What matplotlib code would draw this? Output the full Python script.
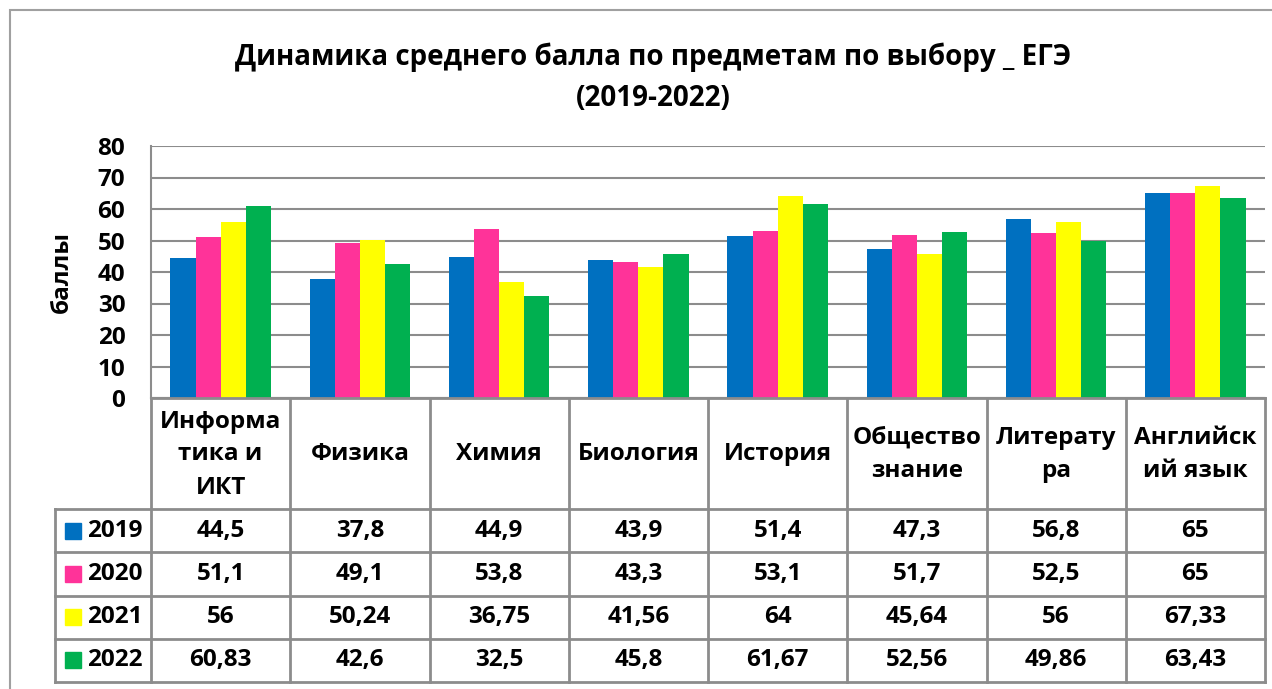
import matplotlib.pyplot as plt
import numpy as np

plt.rcParams['font.family'] = ['Open Sans', 'DejaVu Sans']
plt.rcParams['font.weight'] = 'bold'

# данные
subjects = ['Информа\nтика и\nИКТ', 'Физика', 'Химия', 'Биология', 'История',
            'Общество\nзнание', 'Литерату\nра', 'Английск\nий язык']
years = ['2019', '2020', '2021', '2022']
v2019 = [44.5, 37.8, 44.9, 43.9, 51.4, 47.3, 56.8, 65]
v2020 = [51.1, 49.1, 53.8, 43.3, 53.1, 51.7, 52.5, 65]
v2021 = [56, 50.24, 36.75, 41.56, 64, 45.64, 56, 67.33]
v2022 = [60.83, 42.6, 32.5, 45.8, 61.67, 52.56, 49.86, 63.43]
labels2019 = ['44,5', '37,8', '44,9', '43,9', '51,4', '47,3', '56,8', '65']
labels2020 = ['51,1', '49,1', '53,8', '43,3', '53,1', '51,7', '52,5', '65']
labels2021 = ['56', '50,24', '36,75', '41,56', '64', '45,64', '56', '67,33']
labels2022 = ['60,83', '42,6', '32,5', '45,8', '61,67', '52,56', '49,86', '63,43']
colors = ['#0070C0', '#FF3399', '#FFFF00', '#00B050']

series = [v2019, v2020, v2021, v2022]
cell_text = [labels2019, labels2020, labels2021, labels2022]

W, H = 1272, 689
fig = plt.figure(figsize=(W / 100, H / 100), dpi=100)
gray = '#8C8C8C'
fs = 17.5

# рамка диаграммы
frame = plt.Rectangle((10 / W, -0.1), 1.2, 1 - 10 / H + 0.1, transform=fig.transFigure,
                      fill=False, edgecolor='#A0A0A0', linewidth=1.5)
fig.patches.append(frame)

fig.text(653 / W, 1 - 57 / H, 'Динамика среднего балла по предметам по выбору _ ЕГЭ',
         ha='center', va='center', fontsize=20, fontweight='bold')
fig.text(653 / W, 1 - 98 / H, '(2019-2022)', ha='center', va='center',
         fontsize=20, fontweight='bold')

left, right, top, bottom = 151, 1265, 146, 398
ax = fig.add_axes([left / W, 1 - bottom / H, (right - left) / W, (bottom - top) / H])
x = np.arange(len(subjects))
bw = 0.18
for i, vals in enumerate(series):
    ax.bar(x + (i - 1.5) * bw, vals, width=bw, color=colors[i], zorder=3)
ax.set_xlim(-0.5, len(subjects) - 0.5)
ax.set_ylim(0, 80)
ax.set_yticks(range(0, 81, 10))
ax.tick_params(axis='y', length=0, labelsize=fs, pad=18.5)
ax.tick_params(axis='x', length=0, labelbottom=False)
for t in ax.get_yticklabels():
    t.set_fontweight('bold')
ax.grid(axis='y', color=gray, linewidth=1.5, zorder=0)
for s in ['top', 'right']:
    ax.spines[s].set_visible(False)
ax.spines['left'].set_color(gray)
ax.spines['left'].set_linewidth(1.5)
ax.spines['bottom'].set_color(gray)
ax.spines['bottom'].set_linewidth(1.5)
ax.set_ylabel('баллы', fontsize=fs, fontweight='bold', va='center')
ax.yaxis.set_label_coords((62 - left) / (right - left), 0.5)

# таблица данных
tb_top, head_bot, tb_bot = 398, 509, 682
leg_left = 55
tab = fig.add_axes([leg_left / W, 1 - tb_bot / H, (right - leg_left) / W, (tb_bot - tb_top) / H])
unit = (right - left) / len(subjects)
x0 = -0.5 - (left - leg_left) / unit
tab.set_xlim(x0, len(subjects) - 0.5)
tab.set_ylim(tb_bot, tb_top)
tab.axis('off')
row_h = (tb_bot - head_bot) / 4

lw = 2
# вертикальные линии
for k in range(len(subjects) + 1):
    tab.plot([k - 0.5, k - 0.5], [tb_top, tb_bot], color=gray, lw=lw, clip_on=False)
tab.plot([x0, x0], [head_bot, tb_bot], color=gray, lw=lw, clip_on=False)
# горизонтальные линии
tab.plot([-0.5, len(subjects) - 0.5], [tb_top, tb_top], color=gray, lw=lw, clip_on=False)
for r in range(5):
    y = head_bot + r * row_h
    tab.plot([x0, len(subjects) - 0.5], [y, y], color=gray, lw=lw, clip_on=False)

for j, name in enumerate(subjects):
    tab.text(j, (tb_top + head_bot) / 2 + 1, name, ha='center', va='center',
             fontsize=fs, fontweight='bold', linespacing=1.5)

for r, yr in enumerate(years):
    yc = head_bot + (r + 0.5) * row_h
    tab.add_patch(plt.Rectangle((x0 + 10 / unit, yc - 8), 16 / unit, 16,
                                color=colors[r], clip_on=False))
    tab.text(x0 + 32 / unit, yc, yr, ha='left', va='center', fontsize=fs, fontweight='bold')
    for j in range(len(subjects)):
        tab.text(j, yc, cell_text[r][j], ha='center', va='center',
                 fontsize=fs, fontweight='bold')

fig.savefig('out.png', dpi=100)
